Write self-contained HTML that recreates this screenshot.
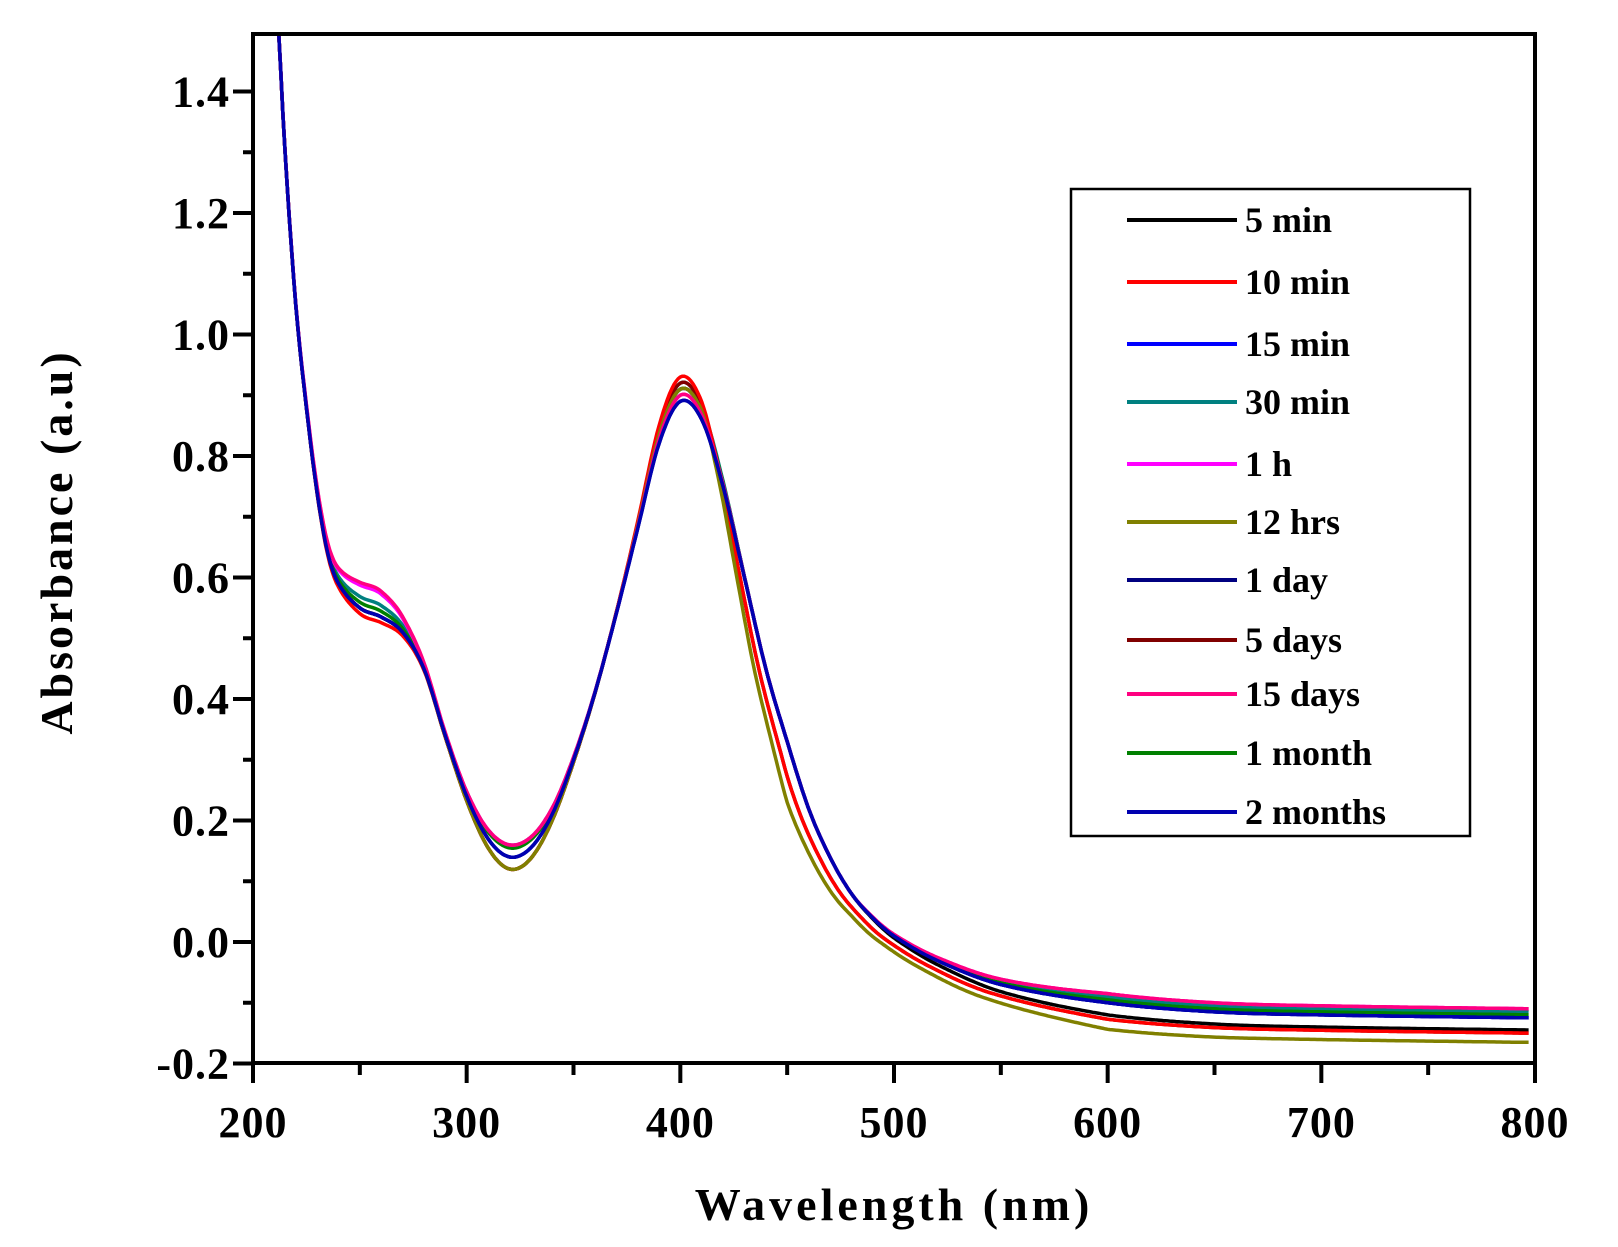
<!DOCTYPE html>
<html><head><meta charset="utf-8"><style>
html,body{margin:0;padding:0;background:#fff;}
svg{display:block;font-family:"Liberation Serif",serif;font-weight:bold;}
</style></head><body>
<svg id="s" width="1618" height="1247" viewBox="0 0 1618 1247" xmlns="http://www.w3.org/2000/svg">
<defs><clipPath id="c"><rect x="253" y="34" width="1282" height="1029"/></clipPath></defs>
<g id="curves" clip-path="url(#c)" fill="none" stroke-width="3.5" stroke-linejoin="round"></g>
<rect x="253" y="34" width="1282" height="1029" fill="none" stroke="#000" stroke-width="4"/>
<g id="ticks" stroke="#000" stroke-width="4"></g>
<g id="labels" font-size="44" fill="#000" letter-spacing="1"></g>
<text x="894" y="1220" font-size="46" text-anchor="middle" letter-spacing="4">Wavelength (nm)</text>
<text transform="translate(72,542) rotate(-90)" font-size="46" text-anchor="middle" letter-spacing="3">Absorbance (a.u)</text>
<rect x="1071" y="189" width="399" height="647" fill="#fff" stroke="#000" stroke-width="2.5"/>
<g id="legend" font-size="36"></g>
</svg>
<script>
var NS="http://www.w3.org/2000/svg";
function X(w){return 253+(w-200)*1282/600;}
function Y(v){return 942-607.5*v;}
function el(p,tag,a,txt){var e=document.createElementNS(NS,tag);for(var k in a)e.setAttribute(k,a[k]);if(txt!=null)e.textContent=txt;p.appendChild(e);return e;}
var T=document.getElementById('ticks'),L=document.getElementById('labels');
for(var w=200;w<=800;w+=50){var maj=w%100==0;el(T,'line',{x1:X(w),x2:X(w),y1:1063,y2:1063+(maj?20:12)});if(maj)el(L,'text',{x:X(w),y:1137,'text-anchor':'middle'},w);}
for(var i=-2;i<=14;i++){var v=i/10,mj=i%2==0;el(T,'line',{x1:253,x2:253-(mj?20:10),y1:Y(v),y2:Y(v)});if(mj)el(L,'text',{x:230,y:Y(v)+15,'text-anchor':'end'},(i<0?'-':'')+Math.abs(v).toFixed(1));}
var P=[[210,1.62],[212,1.5],[215,1.3],[220,1.05],[225,0.88],[230,0.74],[235,0.64],[240,0.59],[250,0.55],[260,0.535],[270,0.51],[280,0.45],[290,0.34],[300,0.24],[310,0.17],[320,0.14],[330,0.155],[340,0.21],[350,0.3],[360,0.41],[370,0.54],[380,0.68],[390,0.82],[400,0.89],[410,0.86],[420,0.75],[430,0.60],[440,0.45],[450,0.33],[460,0.22],[470,0.14],[480,0.08],[490,0.04],[500,0.01],[520,-0.03],[550,-0.07],[600,-0.1],[650,-0.115],[700,-0.12],[800,-0.125]];
function base(w){for(var i=0;i<P.length-1;i++){if(w<=P[i+1][0]){var p0=P[Math.max(i-1,0)],p1=P[i],p2=P[i+1],p3=P[Math.min(i+2,P.length-1)];var t=(w-p1[0])/(p2[0]-p1[0]);var m1=(p2[1]-p0[1])/(p2[0]-p0[0])*(p2[0]-p1[0]),m2=(p3[1]-p1[1])/(p3[0]-p1[0])*(p2[0]-p1[0]);var t2=t*t,t3=t2*t;return (2*t3-3*t2+1)*p1[1]+(t3-2*t2+t)*m1+(-2*t3+3*t2)*p2[1]+(t3-t2)*m2;}}return P[P.length-1][1];}
function g(w,c,s){return Math.exp(-Math.pow((w-c)/s,2));}
function curve(o){return function(w){var ww=w>410?w+o.sh*Math.min(1,(w-410)/40):w;var v=base(ww);v+=o.pk*g(w,400,18)+o.mn*g(w,322,22)+o.sd*g(w,255,20);var tl=Math.min(1,Math.max(0,(w-480)/120));v+=o.tl*tl;return v;};}
var S=[
["5 min","#000",{sh:0,pk:0.02,mn:-0.02,sd:0,tl:-0.02}],
["10 min","#ff0000",{sh:5,pk:0.04,mn:-0.02,sd:-0.01,tl:-0.025}],
["15 min","#0000ff",{sh:0,pk:0.02,mn:0,sd:0,tl:0}],
["30 min","#008080",{sh:0,pk:0.03,mn:0.02,sd:0.02,tl:0.01}],
["1 h","#ff00ff",{sh:0,pk:0.01,mn:0.02,sd:0.04,tl:0.015}],
["12 hrs","#808000",{sh:9,pk:0.02,mn:-0.02,sd:0,tl:-0.04}],
["1 day","#000080",{sh:0,pk:0,mn:0,sd:0,tl:0}],
["5 days","#800000",{sh:5,pk:0.03,mn:-0.02,sd:0,tl:-0.025}],
["15 days","#ff0080",{sh:0,pk:0.01,mn:0.02,sd:0.045,tl:0.015}],
["1 month","#008000",{sh:0,pk:0.02,mn:0.015,sd:0.01,tl:0.005}],
["2 months","#0000b0",{sh:0,pk:0,mn:0,sd:0,tl:0}]];
var C=document.getElementById('curves');
var order=[0,2,3,9,4,7,1,5,6,8,10];
for(var k=0;k<order.length;k++){var s=S[order[k]];var f=curve(s[2]);var d='';for(var ww=210;ww<=797;ww+=1){d+=(ww==210?'M':'L')+X(ww).toFixed(1)+','+Y(f(ww)).toFixed(1);}el(C,'path',{d:d,stroke:s[1]});}
var LG=document.getElementById('legend');var ys=[220,282,344,402,464,522,580,640,694,753,812];
for(var j=0;j<S.length;j++){el(LG,'line',{x1:1127,x2:1237,y1:ys[j],y2:ys[j],stroke:S[j][1],'stroke-width':4});el(LG,'text',{x:1245,y:ys[j]+12},S[j][0]);}
</script>
</body></html>
